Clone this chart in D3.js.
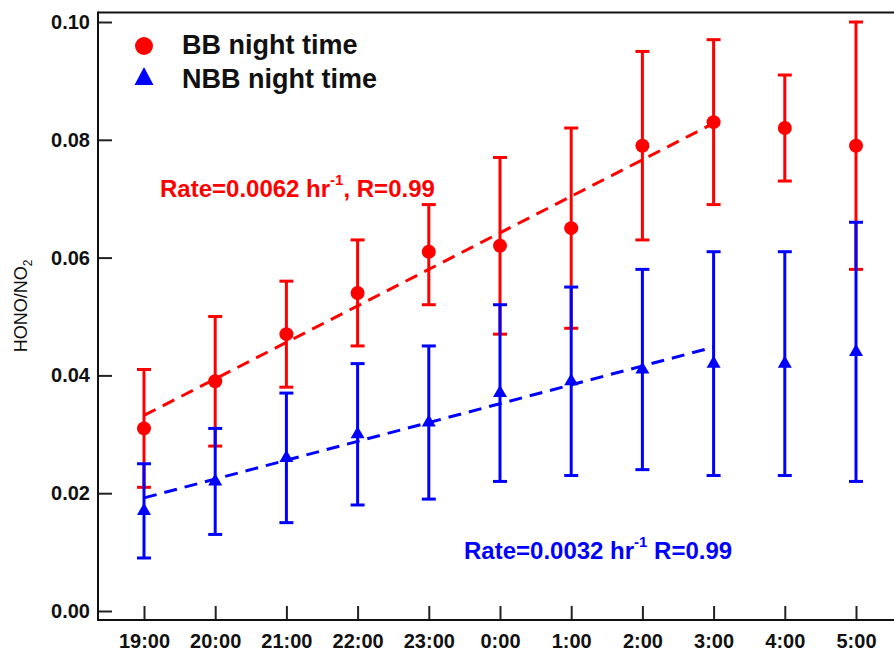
<!DOCTYPE html>
<html>
<head>
<meta charset="utf-8">
<script src="https://cdn.jsdelivr.net/npm/d3@7"></script>
<style>
  html, body { margin: 0; padding: 0; background: #fff; }
  svg { display: block; font-family: "Liberation Sans", Arial, sans-serif; }
</style>
</head>
<body>
<svg id="chart" width="894" height="653"></svg>
<script>
// Hour of night
const hours = ["19:00", "20:00", "21:00", "22:00", "23:00", "0:00", "1:00", "2:00", "3:00", "4:00", "5:00"];

// BB night time: mean HONO/NO2 with lower / upper error bounds
const bbMean  = [0.031, 0.039, 0.047, 0.054, 0.061, 0.062, 0.065, 0.079, 0.083, 0.082, 0.079];
const bbLow   = [0.021, 0.028, 0.038, 0.045, 0.052, 0.047, 0.048, 0.063, 0.069, 0.073, 0.058];
const bbHigh  = [0.041, 0.050, 0.056, 0.063, 0.069, 0.077, 0.082, 0.095, 0.097, 0.091, 0.100];

// NBB night time
const nbbMean = [0.017, 0.022, 0.026, 0.030, 0.032, 0.037, 0.039, 0.041, 0.042, 0.042, 0.044];
const nbbLow  = [0.009, 0.013, 0.015, 0.018, 0.019, 0.022, 0.023, 0.024, 0.023, 0.023, 0.022];
const nbbHigh = [0.025, 0.031, 0.037, 0.042, 0.045, 0.052, 0.055, 0.058, 0.061, 0.061, 0.066];

// Linear fits, 19:00 to 3:00 (value at 19:00, rate per hour)
const bbFit  = { start: 0.0332, rate: 0.0062, hoursSpan: 8 };
const nbbFit = { start: 0.0192, rate: 0.0032, hoursSpan: 8 };

const yTicks = [0.00, 0.02, 0.04, 0.06, 0.08, 0.10];

const RED = "#ff0000", BLUE = "#0000ff";

const svg = d3.select("#chart");

const frame = { left: 98, top: 12.5, right: 894, bottom: 620 };

const x = d3.scalePoint().domain(hours).range([144, 856]);
const y = d3.scaleLinear().domain([0, 0.10]).range([611, 22]);

// Axes with inward ticks
const yAxis = d3.axisLeft(y).tickValues(yTicks).tickFormat(d3.format(".2f"))
  .tickSizeInner(-14).tickSizeOuter(0).tickPadding(8);
const gy = svg.append("g").attr("transform", `translate(${frame.left},0)`).call(yAxis);

const xAxis = d3.axisBottom(x).tickSizeInner(-14).tickSizeOuter(0).tickPadding(14);
const gx = svg.append("g").attr("transform", `translate(0,${frame.bottom})`).call(xAxis);

[gy, gx].forEach(g => {
  g.select(".domain").remove();
  g.selectAll(".tick line").attr("stroke", "#222").attr("stroke-width", 2);
  g.selectAll(".tick text").attr("fill", "#111").style("font-size", "20px").style("font-weight", "bold")
    .style("font-family", "'Liberation Sans', Arial, sans-serif");
});

// Frame lines
const axisLines = svg.append("g").attr("stroke", "#111").attr("stroke-width", 2);
axisLines.append("line").attr("x1", frame.left).attr("x2", frame.left).attr("y1", frame.top - 1).attr("y2", frame.bottom + 1);
axisLines.append("line").attr("x1", frame.left).attr("x2", frame.right).attr("y1", frame.bottom).attr("y2", frame.bottom);
axisLines.append("line").attr("x1", frame.left).attr("x2", frame.right).attr("y1", frame.top).attr("y2", frame.top);

// Y axis title
svg.append("text")
  .attr("transform", "translate(27,306) rotate(-90)")
  .attr("text-anchor", "middle")
  .style("font-size", "18px").attr("fill", "#111")
  .call(t => {
    t.append("tspan").text("HONO/NO");
    t.append("tspan").attr("dy", 5).style("font-size", "12px").text("2");
  });

// Error bars and markers for one series
function drawSeries(mean, low, high, color, symbolType, symbolSize) {
  const g = svg.append("g");
  const rows = hours.map((h, i) => ({ h, m: mean[i], lo: low[i], hi: high[i] }));
  const bars = g.selectAll(".eb").data(rows).join("g").attr("stroke", color).attr("stroke-width", 3);
  bars.append("line").attr("x1", d => x(d.h)).attr("x2", d => x(d.h)).attr("y1", d => y(d.lo)).attr("y2", d => y(d.hi));
  bars.append("line").attr("x1", d => x(d.h) - 7).attr("x2", d => x(d.h) + 7).attr("y1", d => y(d.hi)).attr("y2", d => y(d.hi));
  bars.append("line").attr("x1", d => x(d.h) - 7).attr("x2", d => x(d.h) + 7).attr("y1", d => y(d.lo)).attr("y2", d => y(d.lo));
  g.selectAll(".pt").data(rows).join("path")
    .attr("d", d3.symbol(symbolType, symbolSize))
    .attr("transform", d => `translate(${x(d.h)},${y(d.m)})`)
    .attr("fill", color);
}

drawSeries(bbMean, bbLow, bbHigh, RED, d3.symbolCircle, Math.PI * 49);
drawSeries(nbbMean, nbbLow, nbbHigh, BLUE, d3.symbolTriangle, 85);

// Dashed fit lines
const step = x.step();
function drawFit(fit, color) {
  const x0 = x(hours[0]);
  svg.append("line")
    .attr("x1", x0).attr("y1", y(fit.start))
    .attr("x2", x0 + fit.hoursSpan * step).attr("y2", y(fit.start + fit.rate * fit.hoursSpan))
    .attr("stroke", color).attr("stroke-width", 3).attr("stroke-dasharray", "13,8");
}
drawFit(bbFit, RED);
drawFit(nbbFit, BLUE);

// Fit annotations
function rateLabel(px, py, fit, r, comma, color) {
  const t = svg.append("text").attr("x", px).attr("y", py).attr("fill", color)
    .style("font-size", "24px").style("font-weight", "bold");
  t.append("tspan").text(`Rate=${fit.rate.toFixed(4)} hr`);
  t.append("tspan").attr("dy", -12).style("font-size", "15px").text("-1");
  t.append("tspan").attr("dy", 12).text(`${comma ? "," : ""} R=${r.toFixed(2)}`);
}
rateLabel(160, 197, bbFit, 0.99, true, RED);
rateLabel(464, 559, nbbFit, 0.99, false, BLUE);

// Legend
const legend = svg.append("g");
legend.append("circle").attr("cx", 144).attr("cy", 46).attr("r", 9).attr("fill", RED);
legend.append("path").attr("d", "M144,67 L153.5,85 L134.5,85 Z").attr("fill", BLUE);
legend.append("text").attr("x", 182).attr("y", 54).text("BB night time")
  .style("font-size", "27px").style("font-weight", "bold").attr("fill", "#111");
legend.append("text").attr("x", 182).attr("y", 88).text("NBB night time")
  .style("font-size", "27px").style("font-weight", "bold").attr("fill", "#111");
</script>
</body>
</html>
